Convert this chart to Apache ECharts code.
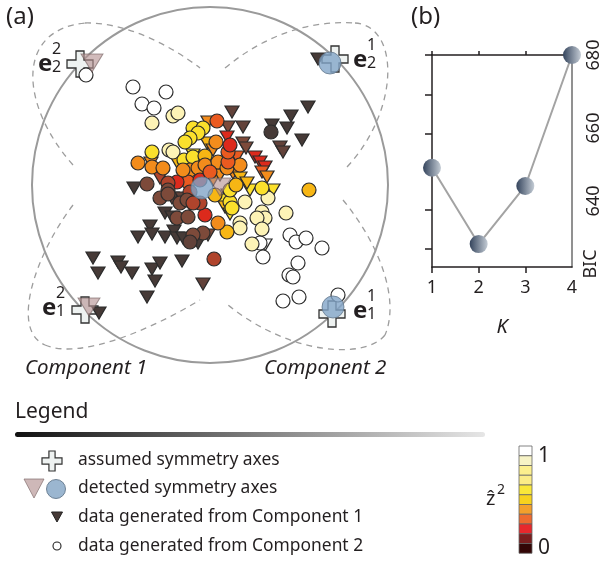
<!DOCTYPE html>
<html><head><meta charset="utf-8">
<script src="https://cdn.jsdelivr.net/npm/echarts@6/dist/echarts.min.js"></script>
<style>html,body{margin:0;padding:0;background:#fff}#c{width:603px;height:563px}</style>
</head><body><div id="c"></div>
<script>
// ---- data (panel a): [x, y, zhat2] in a centered frame ----
const comp1 = [
 [108,126,0],[98,78,0],[81,69,0],[62,60,0],[77,57,0],[92,45,0],[70,38,0.1],[73,33,0.1],
 [22,73,0.1],[18,58,0.2],[33,58,0.1],[33,42,0.2],[36,37,0.2],[-76,-3,0],[-45,-28,0],[-38,-32,0],
 [-60,-41,0],[-58,-49,0],[-72,-52,0],[-45,-52,0],[-36,-46,0],[-33,-53,0],[-27,-53,0],[-12,-58,0],
 [-117,-73,0],[-112,-88,0],[-92,-77,0],[-89,-82,0],[-78,-88,0],[-58,-84,0],[-50,-78,0],[-55,-96,0],
 [-28,-76,0],[-63,-112,0],[-7,-99,0.1],[-111,-128,0],[-2,63,0.6],[17,48,0.4],[-3,42,0.7],[-7,53,0.7],
 [3,35,0.6],[-33,23,0.7],[-17,30,0.8],[-59,22,0.6],[-50,7,0.3],[27,28,0.5],[45,28,0.4],[50,23,0.4],
 [55,18,0.4],[52,13,0.5],[57,8,0.6],[23,12,0.6],[30,7,0.7],[3,5,0.6],[18,-10,0.8],[40,-5,0.8],
 [63,-5,0.8],[12,-15,0.8],[15,-22,0.7],[20,-29,0.8],[-38,-13,0.1],[-2,-50,0.2],[55,-60,1],[-20,-20,0.2],
 [-15,20,0.6],[10,10,0.6],[-28,-13,0.1],[37,2,0.7]
];
const comp2 = [
 [-124,110,1],[-77,98,1],[-44,93,1],[-68,81,1],[-56,77,1],[128,-110,1],[73,-116,1],[89,-112,1],
 [79,-90,1],[83,-92,1],[88,-78,1],[80,-50,1],[86,-57,1],[96,-53,1],[112,-63,1],[50,-58,1],[53,-72,1],
 [-58,62,0.9],[-37,69,0.9],[-32,72,0.9],[76,-28,0.9],[42,-59,0.9],[30,-38,0.9],[30,-43,0.9],[52,-27,0.9],
 [55,-33,0.9],[47,-33,0.9],[52,-44,0.9],[58,-13,0.9],[35,-17,0.9],
 [-17,57,0.8],[-7,57,0.8],[-12,52,0.8],[-20,47,0.8],[-25,43,0.8],[-58,33,0.8],[-41,35,0.9],[-37,33,0.9],
 [-26,25,0.8],[-17,28,0.8],[-5,29,0.7],[52,-3,0.8],[20,-17,0.8],[22,-23,0.8],[99,-5,0.7],[17,-47,0.7],[20,-5,0.8],
 [-72,22,0.6],[-58,18,0.6],[-47,17,0.6],[-20,15,0.6],[-12,17,0.6],[-5,20,0.6],[6,43,0.6],[8,23,0.6],
 [17,17,0.6],[30,20,0.6],[8,-38,0.6],[18,23,0.5],[7,64,0.5],[-22,3,0.5],[18,33,0.5],[20,40,0.4],
 [-33,3,0.4],[-5,-30,0.4],[-42,2,0.3],[-20,-7,0.3],[-18,-17,0.3],[-10,-18,0.3],[4,-74,0.3],
 [-63,1,0.2],[-42,-5,0.2],[-50,-13,0.2],[-42,-9,0.2],[-30,-18,0.2],[-23,-15,0.2],[-17,-18,0.3],
 [-33,-33,0.2],[-22,-32,0.2],[-7,-48,0.2],[-17,-50,0.2],[-20,-57,0.1],[61,53,0],
 [-10,5,0.4],[0,13,0.5],[-27,15,0.6],[26,0,0.7],[5,-10,0.7]
];
const assumedAxes = [[-130,121],[125,126],[-125,-125],[122,-129]];
const detected1 = [[-118,122],[-121,-122],[10,-2]];
const detected2 = [[120,122],[123,-122],[-8,-3]];
// ---- data (panel b) ----
const K = [1,2,3,4];
const BIC = [649.1,628.2,644.1,680];
const bicLabels = [640,660,680];
const bicTicks = [627,637.5,648,658.5,669,680];
const kTicks = [1,2,3];
// ---- colour scales ----
const zPalette = ['#463a37','#62423a','#7d4a3a','#b0442c','#dc2a1c','#ea5a20','#f28c1c','#f7b614','#fbe02c','#fdf3b6','#ffffff'];
const barColors = ['#ffffff','#f7f3c6','#fcef8e','#fbec88','#f9e73a','#f7d21e','#f3a02c','#ee6b2f','#e8282c','#7a1e1e','#330606'];
const legendLabels = ['assumed symmetry axes','detected symmetry axes','data generated from Component 1','data generated from Component 2'];

const F = '"Noto Sans", sans-serif';
const TXT = '#231f20';
const zColor = p => zPalette[Math.round(p.data[2]*10)];
const crossPath = 'path://M9,0H17V9H26V17H17V26H9V17H0V9H9Z';

const chart = echarts.init(document.getElementById('c'), null, {renderer:'canvas'});

const g = [];
g.push({type:'circle', shape:{cx:210, cy:185, r:178}, style:{fill:'none', stroke:'#9a9a9a', lineWidth:2}});
const dash = {fill:'none', stroke:'#9d9d9d', lineWidth:1.3, lineDash:[6,5]};
[
 [73,165,20,105,15,30,85,23],[85,23,125,22,170,45,200,68],
 [225,68,265,35,310,20,355,23],[355,23,400,26,400,110,347,167],
 [73,205,35,255,10,330,45,345],[45,345,80,360,150,330,200,300],
 [343,200,380,245,400,300,385,335],[385,335,365,360,290,355,228,305]
].forEach(b => g.push({type:'bezierCurve', shape:{x1:b[0],y1:b[1],cpx1:b[2],cpy1:b[3],cpx2:b[4],cpy2:b[5],x2:b[6],y2:b[7]}, style:dash}));
const t = (text, x, y, font, opt) => g.push(Object.assign({type:'text', x, y, style:Object.assign({text, font, fill:TXT, align:'left', verticalAlign:'middle'}, opt||{})}));
t('(a)', 6, 17, '24px '+F);
t('(b)', 411, 17, '24px '+F);
t('Component 1', 25, 368, 'italic 20.5px '+F);
t('Component 2', 264, 368, 'italic 20.5px '+F);
const eLab = (x, y, sup, sub) => {
  t('e', x, y, 'bold 24px '+F);
  t(sup, x+14, y-15, '16px '+F);
  t(sub, x+14, y+3, '16px '+F);
};
eLab(38, 64, '2', '2');
eLab(353, 60, '1', '2');
eLab(42, 308, '2', '1');
eLab(353, 311, '1', '1');
t('Legend', 15, 412, '21px '+F);
g.push({type:'rect', shape:{x:15, y:432, width:470, height:5, r:2.5}, style:{fill:new echarts.graphic.LinearGradient(0,0,1,0,[{offset:0,color:'#111'},{offset:1,color:'#e6e6e6'}])}});
const rowsY = [460, 488, 517, 546];
legendLabels.forEach((s,i) => t(s, 78, rowsY[i], '17.4px '+F));
const cx=52, cy=461, s=20/26;
g.push({type:'polygon', shape:{points:[[9,0],[17,0],[17,9],[26,9],[26,17],[17,17],[17,26],[9,26],[9,17],[0,17],[0,9],[9,9]].map(p=>[cx-13*s+p[0]*s, cy-13*s+p[1]*s])}, style:{fill:'#eef2f1', stroke:'#333', lineWidth:1.2}});
g.push({type:'polygon', shape:{points:[[24,479],[44,479],[34,498]]}, style:{fill:'rgba(190,160,160,0.75)', stroke:'rgba(130,110,110,0.7)', lineWidth:1}});
g.push({type:'circle', shape:{cx:56, cy:489, r:9.5}, style:{fill:'rgba(150,178,205,0.95)', stroke:'rgba(100,120,140,0.9)', lineWidth:1}});
g.push({type:'polygon', shape:{points:[[51.5,512],[62.5,512],[57,522]]}, style:{fill:'#463a37', stroke:'#222', lineWidth:1}});
g.push({type:'circle', shape:{cx:57, cy:546, r:4}, style:{fill:'#fff', stroke:'#222', lineWidth:1.1}});
barColors.forEach((c,i) => g.push({type:'rect', shape:{x:519, y:446+i*9.75, width:13, height:9.75}, style:{fill:c, stroke:'#666', lineWidth:0.8}}));
t('1', 538, 456, '21px '+F);
t('0', 538, 548, '21px '+F);
t('ẑ', 486, 499, '20px '+F);
t('2', 497, 490, '14px '+F);
t('BIC', 591, 264, '18px '+F, {align:'center'});
g[g.length-1].rotation = Math.PI/2;

const axisLineBlack = {show:true, lineStyle:{color:'#231f20', width:1.5}};

chart.setOption({
  animation:false,
  backgroundColor:'#fff',
  grid:[
    {left:32, top:7, width:356, height:356},
    {left:432, top:55, width:140, height:212}
  ],
  xAxis:[
    {gridIndex:0, type:'value', min:-178, max:178, show:false},
    {gridIndex:1, type:'value', min:1, max:4, interval:1, position:'bottom',
     axisLine:axisLineBlack, splitLine:{show:false},
     axisTick:{show:true, length:6, lineStyle:{color:'#231f20', width:1.5}, customValues:kTicks},
     axisLabel:{fontSize:18, fontFamily:F, color:TXT, margin:12},
     name:'K', nameLocation:'middle', nameGap:50, nameTextStyle:{fontSize:20, fontStyle:'italic', fontFamily:F, color:TXT}},
    {gridIndex:1, type:'value', min:1, max:4, interval:1, position:'top',
     axisLine:axisLineBlack, splitLine:{show:false},
     axisTick:{show:true, inside:false, length:4, lineStyle:{color:'#231f20', width:1.5}, customValues:kTicks},
     axisLabel:{show:false}}
  ],
  yAxis:[
    {gridIndex:0, type:'value', min:-178, max:178, show:false},
    {gridIndex:1, type:'value', min:621.9, max:680, position:'left',
     axisLine:axisLineBlack, splitLine:{show:false},
     axisTick:{show:true, length:7, lineStyle:{color:'#231f20', width:1.5}, customValues:bicTicks},
     axisLabel:{show:false}},
    {gridIndex:1, type:'value', min:621.9, max:680, position:'right',
     axisLine:{show:true, lineStyle:{color:'#6d6d6d', width:1.5}}, splitLine:{show:false},
     axisTick:{show:false},
     axisLabel:{show:true, customValues:bicLabels, rotate:90, fontSize:18, fontFamily:F, color:TXT, margin:13}}
  ],
  graphic:g,
  series:[
    {type:'scatter', xAxisIndex:0, yAxisIndex:0, data:assumedAxes, symbol:crossPath, symbolSize:26, z:2,
     itemStyle:{color:'#eef2f1', borderColor:'#333', borderWidth:1.3, opacity:1}},
    {type:'scatter', xAxisIndex:0, yAxisIndex:0, data:comp1, symbol:'triangle', symbolRotate:180, symbolSize:[14,12], z:3,
     itemStyle:{color:zColor, borderColor:'#2b2b2b', borderWidth:1.2, opacity:1}},
    {type:'scatter', xAxisIndex:0, yAxisIndex:0, data:comp2, symbol:'circle', symbolSize:14, z:3,
     itemStyle:{color:zColor, borderColor:'#2b2b2b', borderWidth:1.2, opacity:1}},
    {type:'scatter', xAxisIndex:0, yAxisIndex:0, data:detected1, symbol:'triangle', symbolRotate:180, symbolSize:[22,18], z:4,
     itemStyle:{color:'rgba(180,145,145,0.62)', borderColor:'rgba(110,90,90,0.6)', borderWidth:1, opacity:1}},
    {type:'scatter', xAxisIndex:0, yAxisIndex:0, data:detected2, symbol:'circle', symbolSize:22, z:4,
     itemStyle:{color:'rgba(130,165,200,0.8)', borderColor:'rgba(100,120,140,0.8)', borderWidth:1, opacity:1}},
    {type:'line', xAxisIndex:1, yAxisIndex:1, data:K.map((k,i)=>[k,BIC[i]]), clip:false, z:5,
     lineStyle:{color:'#a3a3a3', width:2}, symbol:'circle', symbolSize:18, showSymbol:true,
     itemStyle:{color:new echarts.graphic.LinearGradient(0,0,1,0,[{offset:0,color:'#34445c'},{offset:1,color:'#c4ccd5'}]), borderWidth:0}}
  ]
});
</script></body></html>
